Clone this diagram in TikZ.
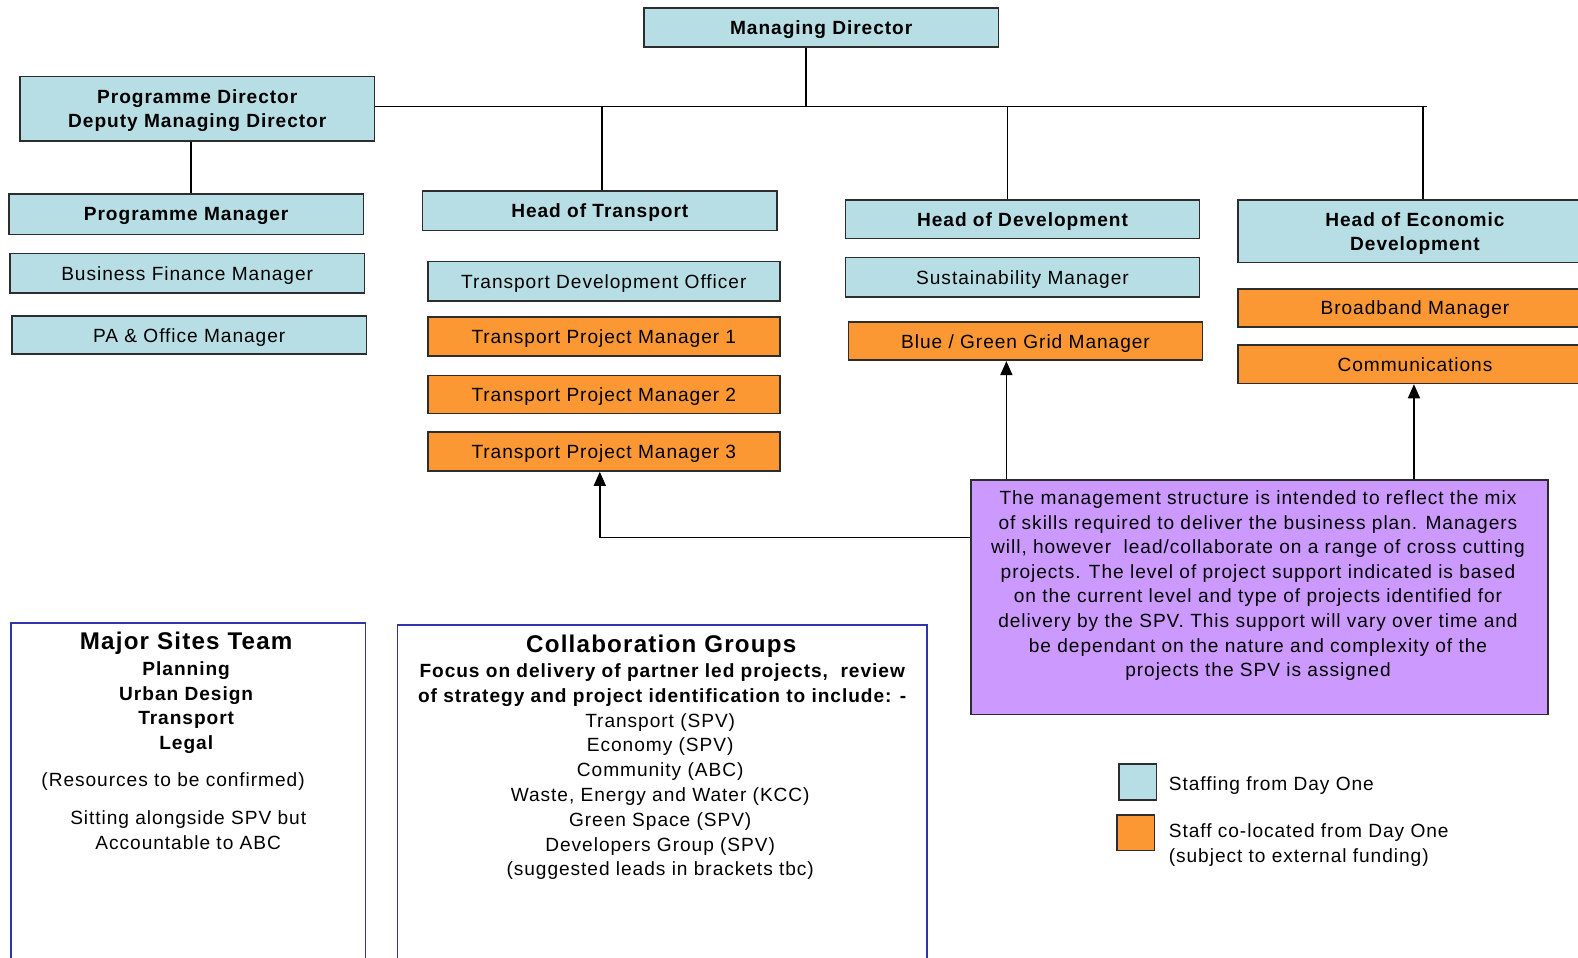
\documentclass[tikz,border=0pt]{standalone}
\usepackage{fontspec}
\setmainfont{Liberation Sans}[LetterSpace=5]
\usetikzlibrary{arrows.meta,calc}
\definecolor{lblue}{RGB}{183,222,228}
\definecolor{orng}{RGB}{251,152,51}
\definecolor{purp}{RGB}{204,153,255}
\definecolor{bord}{RGB}{45,45,45}
\definecolor{bbord}{RGB}{50,50,170}
\begin{document}
\begin{tikzpicture}[x=0.5pt,y=-0.5pt,
 box/.style={draw=bord,line width=0.8pt,minimum width=176pt,minimum height=19.5pt,inner sep=0pt,text depth=0pt,align=center,font=\fontsize{9.5}{12.2}\selectfont},
 blu/.style={box,fill=lblue},
 org/.style={box,fill=orng},
 hd/.style={font=\fontsize{9.5}{12.2}\selectfont\bfseries},
 txt/.style={inner sep=0pt,align=center,font=\fontsize{9.5}{12.3}\selectfont},
 conn/.style={line width=0.75pt,draw=black},
 arr/.style={conn,-{Triangle[width=6pt,length=7pt]}},
 side/.style={draw=bbord,line width=0.75pt},
]
\useasboundingbox (0,0) rectangle (1568,951);

% top level
\node[blu,hd] (md) at (816,27.5) {Managing Director};
\node[blu,hd,minimum height=32pt] (pd) at (196,108) {Programme Director\\Deputy Managing Director};

% programme column
\node[blu,hd,minimum height=20pt] (pm) at (185,213) {Programme Manager};
\node[blu] (bfm) at (186,271.5) {Business Finance Manager};
\node[blu,minimum height=19pt] (pao) at (188,333) {PA \& Office Manager};

% transport column
\node[blu,hd] (hot) at (596,209.5) {Head of Transport};
\node[blu,minimum width=175pt] (tdo) at (600,279.5) {Transport Development Officer};
\node[org,minimum width=175pt] (tpm1) at (600,334.5) {Transport Project Manager 1};
\node[org,minimum width=175pt,minimum height=19pt] (tpm2) at (600,392) {Transport Project Manager 2};
\node[org,minimum width=175pt] (tpm3) at (600,448.5) {Transport Project Manager 3};

% development column
\node[blu,hd,minimum height=19pt] (hod) at (1016,218) {Head of Development};
\node[blu] (sm) at (1016,275.5) {Sustainability Manager};
\node[org,minimum height=19pt] (bgm) at (1019,339) {Blue / Green Grid Manager};

% economic development column
\node[blu,hd,minimum height=31pt] (hoed) at (1406,230) {Head of Economic\\Development};
\node[org,minimum height=19pt] (bbm) at (1406,306) {Broadband Manager};
\node[org,minimum height=19pt] (com) at (1406,362) {Communications};

% note box
\node[draw=bord,line width=0.8pt,fill=purp,minimum width=286.5pt,minimum height=116.5pt,inner sep=0pt] (note) at (1251.5,593.5) {};
\node[txt,font=\fontsize{9.5}{12.2}\selectfont] (notetxt) at (1250,582) {The management structure is intended to reflect the mix\\
of skills required to deliver the business plan. Managers\\
will, however\ \ lead/collaborate on a range of cross cutting\\
projects. The level of project support indicated is based\\
on the current level and type of projects identified for\\
delivery by the SPV. This support will vary over time and\\
be dependant on the nature and complexity of the\\
projects the SPV is assigned};

% connectors
\coordinate (j0) at (801,106);
\coordinate (busR) at (1418,106);
\coordinate (jT) at (598,106);
\coordinate (jD) at (1001,106);
\coordinate (jE) at (1414,106);
\coordinate (jP) at (190,140);
\draw[conn] (md.south -| j0) -- (j0);
\draw[conn] (pd.east |- busR) -- (busR);
\draw[conn] (jT) -- (jT |- hot.north);
\draw[conn] (jD) -- (jD |- hod.north);
\draw[conn] (jE) -- (jE |- hoed.north);
\draw[conn] (pd.south -| jP) -- (pm.north -| jP);

\coordinate (aD) at (1000,477);
\coordinate (aE) at (1405,477);
\coordinate (aT) at (596,534);
\draw[arr] (aD |- note.north) -- (aD |- bgm.south);
\draw[arr] (aE |- note.north) -- (aE |- com.south);
\draw[arr] (aT -| note.west) -- (aT) -- (aT |- tpm3.south);

% major sites team
\draw[side] (11,975) -- (11,619) -- (363,619) -- (363,975);
\node[txt,font=\fontsize{12}{14}\selectfont\bfseries] (mst) at (185,639) {Major Sites Team};
\node[txt,font=\fontsize{9.5}{12.3}\selectfont\bfseries] (mstl) at (185,703) {Planning\\Urban Design\\Transport\\Legal};
\node[txt] (res) at (172,777) {(Resources to be confirmed)};
\node[txt] (sit) at (187,825) {Sitting alongside SPV but\\Accountable to ABC};

% collaboration groups
\draw[side] (395,975) -- (395,621) -- (921,621) -- (921,975);
\node[txt,font=\fontsize{12}{14}\selectfont\bfseries] (cg) at (657,642) {Collaboration Groups};
\node[txt,font=\fontsize{9.5}{12.2}\selectfont\bfseries] (cgf) at (658,681) {Focus on delivery of partner led projects,\ \ review\\of strategy and project identification to include: -};
\node[txt] (cgl) at (656,791.5) {Transport (SPV)\\Economy (SPV)\\Community (ABC)\\Waste, Energy and Water (KCC)\\Green Space (SPV)\\Developers Group (SPV)\\(suggested leads in brackets tbc)};

% legend
\node[draw=bord,line width=0.8pt,fill=lblue,minimum width=18.5pt,minimum height=18pt,inner sep=0pt] (lgb) at (1130.5,777) {};
\node[draw=bord,line width=0.8pt,fill=orng,minimum width=18.5pt,minimum height=17.5pt,inner sep=0pt] (lgo) at (1128.5,827.5) {};
\node[txt,anchor=west,align=left] (lgbt) at (1161,781) {Staffing from Day One};
\node[txt,anchor=west,align=left] (lgot) at (1161,839.5) {Staff co-located from Day One\\(subject to external funding)};
\end{tikzpicture}
\end{document}
